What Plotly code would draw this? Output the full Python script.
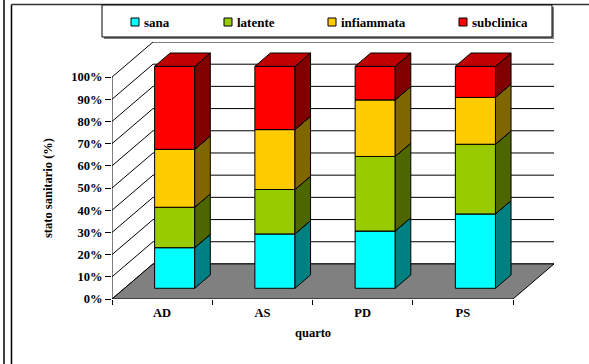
import plotly.graph_objects as go

# ---- data -------------------------------------------------------------
categories = ["AD", "AS", "PD", "PS"]
series_names = ["sana", "latente", "infiammata", "subclinica"]
sana = [18.3, 24.5, 25.8, 33.5]
latente = [18.2, 20.0, 33.6, 31.4]
infiammata = [26.1, 27.0, 25.5, 21.1]
subclinica = [37.4, 28.5, 15.1, 14.0]
y_ticks = list(range(0, 101, 10))
y_tick_labels = [f"{v}%" for v in y_ticks]

series = [sana, latente, infiammata, subclinica]
front_colors = ["#00FFFF", "#99CC00", "#FFCC00", "#FF0000"]
side_colors = ["#008080", "#4D6600", "#806600", "#800000"]
top_colors = ["#00BFBF", "#739900", "#BF9900", "#C00000"]

# ---- oblique 3-D projection parameters (in axis units) ---------------
DX = 0.409      # horizontal shift of the full floor depth (category units)
DY = 15.8       # vertical shift of the full floor depth (percent units)
D0, D1 = 0.306, 0.686   # depth span occupied by each bar
HALF_W = 0.2            # half bar width
N = len(categories)

FONT = "Liberation Serif"


def proj(x, d, v):
    return x + d * DX, v + d * DY


def poly(points):
    xs, ys = [], []
    for x, d, v in points:
        px, py = proj(x, d, v)
        xs.append(px)
        ys.append(py)
    xs.append(xs[0])
    ys.append(ys[0])
    return xs, ys


def area(xs, ys, fill, line="black", width=1):
    return go.Scatter(x=xs, y=ys, mode="lines", fill="toself", fillcolor=fill,
                      line=dict(color=line, width=width), hoverinfo="skip",
                      showlegend=False)


fig = go.Figure()

# back-wall gridlines
gx, gy = [], []
for v in y_ticks:
    x0, y0 = proj(0, 1, v)
    x1, y1 = proj(N, 1, v)
    gx += [x0, x1, None]
    gy += [y0, y1, None]
fig.add_trace(go.Scatter(x=gx, y=gy, mode="lines", line=dict(color="black", width=1),
                         hoverinfo="skip", showlegend=False))

# side-wall diagonals and front value axis
sx, sy = [], []
for v in y_ticks:
    x0, y0 = proj(0, 0, v)
    x1, y1 = proj(0, 1, v)
    sx += [x0, x1, None]
    sy += [y0, y1, None]
fig.add_trace(go.Scatter(x=sx, y=sy, mode="lines", line=dict(color="black", width=1),
                         hoverinfo="skip", showlegend=False))
fig.add_trace(go.Scatter(x=[0, 0], y=[0, 100], mode="lines",
                         line=dict(color="black", width=1),
                         hoverinfo="skip", showlegend=False))

# floor
fx, fy = poly([(0, 0, 0), (N, 0, 0), (N, 1, 0), (0, 1, 0)])
fig.add_trace(area(fx, fy, "#808080"))

# stacked 3-D bars
base = [0.0] * N
for s, vals in enumerate(series):
    front_x, front_y, side_x, side_y, top_x, top_y = [], [], [], [], [], []
    for i, val in enumerate(vals):
        xl = i + 0.5 - HALF_W
        xr = i + 0.5 + HALF_W
        v0 = base[i]
        v1 = base[i] + val
        px, py = poly([(xl, D0, v0), (xr, D0, v0), (xr, D0, v1), (xl, D0, v1)])
        front_x += px + [None]
        front_y += py + [None]
        px, py = poly([(xr, D0, v0), (xr, D1, v0), (xr, D1, v1), (xr, D0, v1)])
        side_x += px + [None]
        side_y += py + [None]
        px, py = poly([(xl, D0, v1), (xr, D0, v1), (xr, D1, v1), (xl, D1, v1)])
        top_x += px + [None]
        top_y += py + [None]
        base[i] = v1
    fig.add_trace(area(front_x, front_y, front_colors[s]))
    fig.add_trace(area(side_x, side_y, side_colors[s]))
    fig.add_trace(area(top_x, top_y, top_colors[s]))

# ---- layout -----------------------------------------------------------
W_PX, H_PX = 589, 364
L, R, T, B = 112, 35, 42, 65
PW, PH = W_PX - L - R, H_PX - T - B


def paper_x(px):
    return (px - L) / PW


def paper_y(py):
    return (H_PX - B - py) / PH


tick_font = dict(family=FONT, size=12.5, color="black", weight="bold")

fig.update_layout(
    width=W_PX, height=H_PX,
    margin=dict(l=L, r=R, t=T, b=B, pad=0),
    plot_bgcolor="white", paper_bgcolor="white",
    showlegend=False,
    font=dict(family=FONT, color="black"),
    xaxis=dict(range=[0, N + DX], showgrid=False, zeroline=False, showline=False,
               tickmode="array", tickvals=[i + 0.5 for i in range(N)],
               ticktext=categories, ticks="", tickfont=tick_font,
               ticklabelstandoff=4,
               minor=dict(tickmode="array", tickvals=list(range(N + 1)),
                          ticks="outside", ticklen=5, tickcolor="black",
                          tickwidth=1, showgrid=False),
               fixedrange=True),
    yaxis=dict(range=[0, 100 + DY], showgrid=False, zeroline=False, showline=False,
               tickmode="array", tickvals=y_ticks, ticktext=y_tick_labels,
               ticks="outside", ticklen=6, tickcolor="black", tickwidth=1,
               tickfont=tick_font, fixedrange=True),
)

# axis titles
fig.add_annotation(x=N / 2, xref="x", y=paper_y(333), yref="paper",
                   xanchor="center", yanchor="middle",
                   text="quarto", showarrow=False,
                   font=dict(family=FONT, size=12.5, weight="bold"))
fig.add_annotation(x=paper_x(48), xref="paper", y=paper_y(188), yref="paper",
                   xanchor="center", yanchor="middle",
                   text="stato sanitario (%)", textangle=-90, showarrow=False,
                   font=dict(family=FONT, size=12.5, weight="bold"))

# outer frame
shapes = [
    dict(type="line", xref="paper", yref="paper", x0=paper_x(4), x1=paper_x(4),
         y0=paper_y(0), y1=paper_y(H_PX), line=dict(color="black", width=1.5)),
    dict(type="line", xref="paper", yref="paper", x0=paper_x(11.5), x1=paper_x(11.5),
         y0=paper_y(4.5), y1=paper_y(H_PX), line=dict(color="black", width=1.5)),
    dict(type="line", xref="paper", yref="paper", x0=paper_x(11.5), x1=paper_x(W_PX),
         y0=paper_y(4.5), y1=paper_y(4.5), line=dict(color="#333333", width=1.5)),
    # legend box with shadow
    dict(type="rect", xref="paper", yref="paper", x0=paper_x(104), x1=paper_x(554),
         y0=paper_y(7), y1=paper_y(39), fillcolor="#808080", line=dict(width=0)),
    dict(type="rect", xref="paper", yref="paper", x0=paper_x(102), x1=paper_x(552),
         y0=paper_y(5), y1=paper_y(37), fillcolor="white",
         line=dict(color="black", width=1)),
]

legend_left = [131, 224, 328, 459]
for name, color, lx in zip(series_names, front_colors, legend_left):
    shapes.append(dict(type="rect", xref="paper", yref="paper",
                       x0=paper_x(lx), x1=paper_x(lx + 8),
                       y0=paper_y(18), y1=paper_y(26), fillcolor=color,
                       line=dict(color="black", width=1)))
    fig.add_annotation(x=paper_x(lx + 11), xref="paper", y=paper_y(22), yref="paper",
                       text=name, showarrow=False, xanchor="left", yanchor="middle",
                       font=dict(family=FONT, size=13, weight="bold"))

fig.update_layout(shapes=shapes)

fig.write_html("out.html")
